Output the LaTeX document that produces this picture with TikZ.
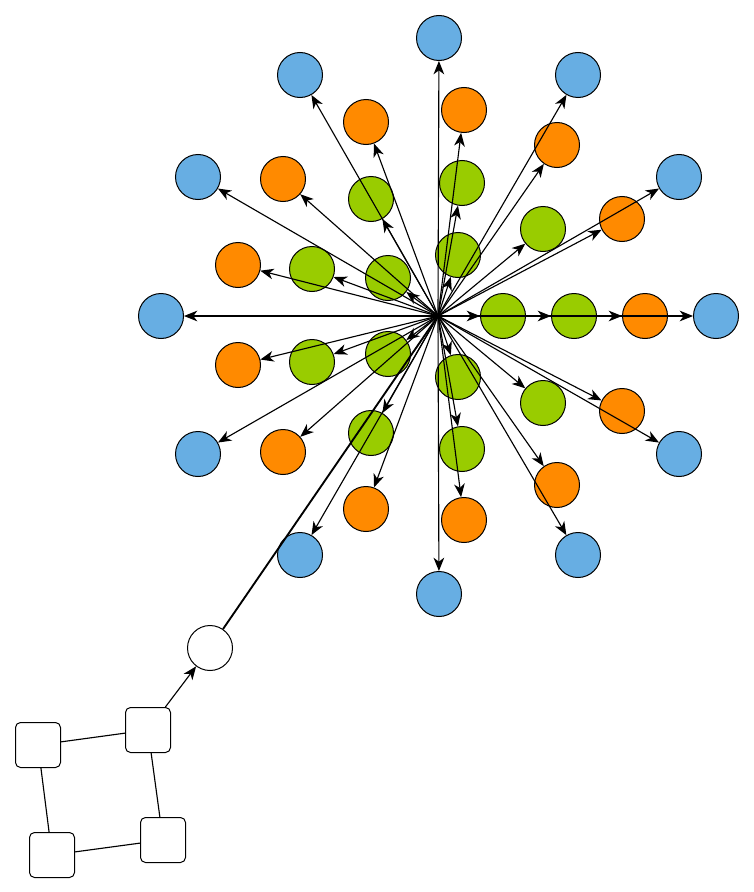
\documentclass[tikz,border=0pt]{standalone}
\usepackage{tikz}
\usetikzlibrary{arrows.meta}
\definecolor{skyblue}{HTML}{67AEE3}
\definecolor{tangerine}{HTML}{FF8A00}
\definecolor{limegreen}{HTML}{99CC00}
\begin{document}
\begin{tikzpicture}[x=0.75pt,y=-0.75pt]
\useasboundingbox (0,0) rectangle (753,892);
\coordinate (hub) at (438,316);
\begin{scope}[every node/.style={circle,draw,line width=0.75pt,minimum size=33.75pt,inner sep=0pt}]
    % outer ring
    \node[fill=skyblue] (b1) at (439,38) {};
    \node[fill=skyblue] (b2) at (300,75) {};
    \node[fill=skyblue] (b3) at (578,75) {};
    \node[fill=skyblue] (b4) at (198,177) {};
    \node[fill=skyblue] (b5) at (679,177) {};
    \node[fill=skyblue] (b6) at (161,316) {};
    \node[fill=skyblue] (b7) at (716,316) {};
    \node[fill=skyblue] (b8) at (198,454) {};
    \node[fill=skyblue] (b9) at (679,454) {};
    \node[fill=skyblue] (b10) at (300,555) {};
    \node[fill=skyblue] (b11) at (578,555) {};
    \node[fill=skyblue] (b12) at (439,594) {};
    % middle ring
    \node[fill=tangerine] (o1) at (464,110) {};
    \node[fill=tangerine] (o2) at (366,122) {};
    \node[fill=tangerine] (o3) at (557,145) {};
    \node[fill=tangerine] (o4) at (283,179) {};
    \node[fill=tangerine] (o5) at (622,219) {};
    \node[fill=tangerine] (o6) at (238,265) {};
    \node[fill=tangerine] (o7) at (645,316) {};
    \node[fill=tangerine] (o8) at (238,365) {};
    \node[fill=tangerine] (o9) at (622,411) {};
    \node[fill=tangerine] (o10) at (283,452) {};
    \node[fill=tangerine] (o11) at (557,485) {};
    \node[fill=tangerine] (o12) at (366,509) {};
    \node[fill=tangerine] (o13) at (464,520) {};
    % inner ring
    \node[fill=limegreen] (g1) at (462,183) {};
    \node[fill=limegreen] (g2) at (371,199) {};
    \node[fill=limegreen] (g3) at (543,229) {};
    \node[fill=limegreen] (g4) at (458,255) {};
    \node[fill=limegreen] (g5) at (312,269) {};
    \node[fill=limegreen] (g6) at (388,278) {};
    \node[fill=limegreen] (g7) at (503,316) {};
    \node[fill=limegreen] (g8) at (574,316) {};
    \node[fill=limegreen] (g9) at (312,362) {};
    \node[fill=limegreen] (g10) at (388,354) {};
    \node[fill=limegreen] (g11) at (458,377) {};
    \node[fill=limegreen] (g12) at (543,403) {};
    \node[fill=limegreen] (g13) at (371,433) {};
    \node[fill=limegreen] (g14) at (462,449) {};
    % source
    \node[fill=white] (src) at (210,648) {};
\end{scope}
\begin{scope}[every node/.style={rectangle,rounded corners=3.75pt,draw,fill=white,line width=0.75pt,minimum size=33.75pt,inner sep=0pt}]
    \node (s1) at (38,745) {};
    \node (s2) at (148,730) {};
    \node (s3) at (52,855) {};
    \node (s4) at (163,840) {};
\end{scope}
\begin{scope}[every edge/.style={draw=black,line width=0.85pt,-{Stealth[length=10pt,width=8pt,inset=3pt]}}]
    \foreach \n in {b1,b2,b3,b4,b5,b6,b7,b8,b9,b10,b11,b12,
                    o1,o2,o3,o4,o5,o6,o7,o8,o9,o10,o11,o12,o13,
                    g1,g2,g3,g4,g5,g6,g7,g8,g9,g10,g11,g12,g13,g14}
        \path (hub) edge (\n);
    \path (s2) edge (src);
\end{scope}
\draw[line width=1.4pt] (src) -- (hub);
\draw[line width=0.85pt] (s1) -- (s2);
\draw[line width=0.85pt] (s1) -- (s3);
\draw[line width=0.85pt] (s3) -- (s4);
\draw[line width=0.85pt] (s2) -- (s4);
\end{tikzpicture}
\end{document}
